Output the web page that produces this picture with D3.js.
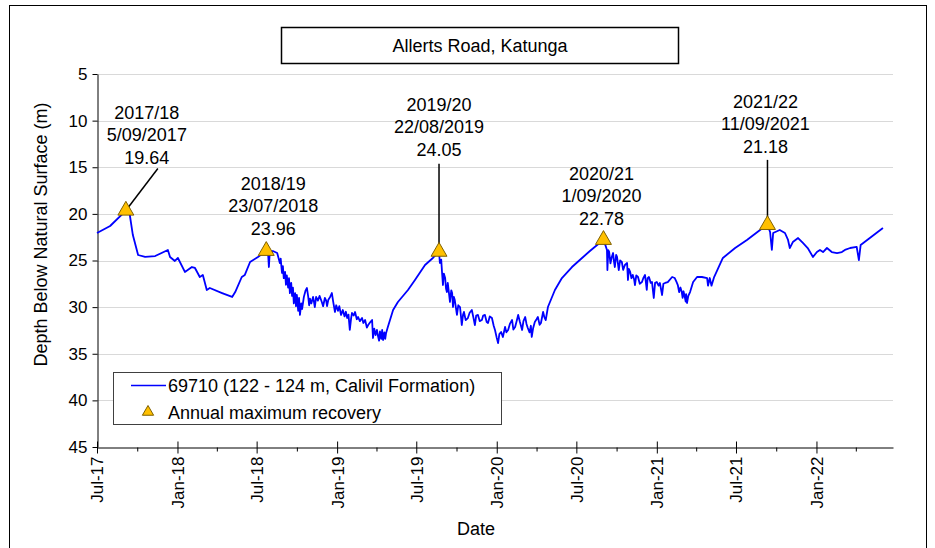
<!DOCTYPE html>
<html>
<head>
<meta charset="utf-8">
<script src="https://cdn.jsdelivr.net/npm/d3@7"></script>
<style>
  body { margin: 0; background: #fff; }
  svg { display: block; font-family: "Liberation Sans", Arial, sans-serif; }
</style>
</head>
<body>
<div id="chart"></div>
<script>
const chartTitle = "Allerts Road, Katunga";
const seriesName = "69710 (122 - 124 m, Calivil Formation)";
const peakName = "Annual maximum recovery";

// bore hydrograph readings [date, depth m], one array per water year
const readings2017 = [
  ["2017-07-01", 22.05], ["2017-07-31", 21.3], ["2017-09-05", 19.64], ["2017-09-14", 20.12], ["2017-09-21", 22.27],
  ["2017-10-03", 24.41], ["2017-10-19", 24.62], ["2017-11-11", 24.52], ["2017-12-10", 23.87], ["2017-12-15", 24.62],
  ["2017-12-26", 25.05], ["2018-01-02", 24.73], ["2018-01-18", 26.23], ["2018-02-03", 25.70], ["2018-02-10", 25.80],
  ["2018-02-21", 26.77], ["2018-02-28", 26.55], ["2018-03-09", 28.16], ["2018-03-16", 27.95], ["2018-04-13", 28.49],
  ["2018-05-06", 28.91], ["2018-05-13", 28.38], ["2018-05-28", 26.77], ["2018-06-04", 26.55], ["2018-06-16", 25.16]
];
const readings2018 = [
  ["2018-07-04", 24.62], ["2018-07-13", 24.30], ["2018-07-23", 23.96], ["2018-07-27", 24.10], ["2018-07-29", 25.70],
  ["2018-07-31", 24.10], ["2018-08-07", 23.98], ["2018-08-17", 24.20], ["2018-08-21", 24.9], ["2018-08-23", 25.27],
  ["2018-08-25", 24.8], ["2018-08-28", 26.34], ["2018-08-30", 25.6], ["2018-09-01", 26.9], ["2018-09-04", 26.23],
  ["2018-09-06", 27.6], ["2018-09-08", 26.6], ["2018-09-11", 27.9], ["2018-09-13", 26.9], ["2018-09-15", 28.5],
  ["2018-09-18", 27.4], ["2018-09-20", 28.8], ["2018-09-22", 27.9], ["2018-09-24", 29.6], ["2018-09-27", 28.49],
  ["2018-09-29", 29.9], ["2018-10-01", 28.7], ["2018-10-04", 30.4], ["2018-10-06", 29.0], ["2018-10-08", 30.84],
  ["2018-10-11", 29.6], ["2018-10-13", 30.2], ["2018-10-17", 28.9], ["2018-10-21", 28.2], ["2018-10-24", 27.95],
  ["2018-10-27", 28.9], ["2018-10-29", 29.8], ["2018-10-31", 29.1], ["2018-11-03", 29.6], ["2018-11-07", 28.91],
  ["2018-11-09", 29.4], ["2018-11-11", 29.99], ["2018-11-14", 28.9], ["2018-11-18", 29.3], ["2018-11-22", 28.8],
  ["2018-11-27", 29.45], ["2018-11-30", 29.9], ["2018-12-04", 29.02], ["2018-12-07", 29.3], ["2018-12-09", 29.9],
  ["2018-12-12", 29.2], ["2018-12-16", 28.91], ["2018-12-20", 28.49], ["2018-12-23", 29.4], ["2018-12-27", 30.52],
  ["2018-12-30", 29.8], ["2019-01-03", 30.4], ["2019-01-06", 29.9], ["2019-01-10", 30.84], ["2019-01-14", 30.31],
  ["2019-01-18", 31.0], ["2019-01-21", 30.5], ["2019-01-24", 31.17], ["2019-01-27", 30.8], ["2019-01-30", 32.45],
  ["2019-02-02", 31.2], ["2019-02-04", 30.63], ["2019-02-08", 30.9], ["2019-02-11", 30.52], ["2019-02-15", 31.3],
  ["2019-02-18", 31.06], ["2019-02-22", 31.5], ["2019-02-27", 31.17], ["2019-03-02", 31.7], ["2019-03-06", 31.38],
  ["2019-03-10", 32.2], ["2019-03-13", 31.92], ["2019-03-18", 31.6], ["2019-03-22", 31.38], ["2019-03-24", 33.31],
  ["2019-03-27", 32.3], ["2019-03-30", 33.0], ["2019-04-02", 32.45], ["2019-04-05", 33.2], ["2019-04-07", 33.6],
  ["2019-04-09", 32.6], ["2019-04-12", 33.4], ["2019-04-14", 32.45], ["2019-04-16", 33.53], ["2019-04-19", 32.7],
  ["2019-04-21", 33.4], ["2019-04-23", 32.77], ["2019-04-27", 32.13], ["2019-05-09", 30.31], ["2019-05-20", 29.45],
  ["2019-06-12", 28.16], ["2019-06-28", 27.09]
];
const readings2019 = [
  ["2019-07-21", 25.48], ["2019-08-08", 24.73], ["2019-08-22", 24.05], ["2019-08-24", 25.27], ["2019-08-27", 24.9],
  ["2019-08-29", 26.34], ["2019-08-31", 27.63], ["2019-09-02", 26.4], ["2019-09-05", 26.88], ["2019-09-07", 28.0],
  ["2019-09-09", 28.38], ["2019-09-11", 27.41], ["2019-09-14", 28.6], ["2019-09-16", 29.45], ["2019-09-19", 28.2],
  ["2019-09-21", 28.49], ["2019-09-23", 29.99], ["2019-09-25", 28.9], ["2019-09-27", 29.24], ["2019-09-30", 30.2],
  ["2019-10-02", 30.84], ["2019-10-05", 29.8], ["2019-10-09", 29.99], ["2019-10-11", 30.9], ["2019-10-13", 31.92],
  ["2019-10-16", 30.8], ["2019-10-18", 30.52], ["2019-10-22", 31.4], ["2019-10-27", 31.17], ["2019-10-31", 30.6],
  ["2019-11-05", 30.31], ["2019-11-09", 31.2], ["2019-11-12", 31.92], ["2019-11-15", 30.9], ["2019-11-19", 30.84],
  ["2019-11-23", 31.5], ["2019-11-28", 31.38], ["2019-12-01", 30.9], ["2019-12-05", 30.84], ["2019-12-09", 31.6],
  ["2019-12-12", 31.70], ["2019-12-16", 31.0], ["2019-12-21", 31.17], ["2019-12-25", 32.0], ["2019-12-28", 32.45],
  ["2020-01-01", 33.3], ["2020-01-04", 33.85], ["2020-01-07", 32.9], ["2020-01-11", 32.67], ["2020-01-15", 33.2],
  ["2020-01-20", 32.13], ["2020-01-23", 32.7], ["2020-01-27", 32.45], ["2020-01-31", 31.8], ["2020-02-05", 31.38],
  ["2020-02-08", 32.4], ["2020-02-12", 32.13], ["2020-02-16", 31.4], ["2020-02-19", 30.84], ["2020-02-23", 31.6],
  ["2020-02-28", 32.45], ["2020-03-02", 31.5], ["2020-03-06", 31.06], ["2020-03-09", 31.8], ["2020-03-12", 32.24],
  ["2020-03-16", 32.7], ["2020-03-19", 32.0], ["2020-03-21", 33.20], ["2020-03-24", 32.3], ["2020-03-28", 31.59],
  ["2020-04-01", 31.3], ["2020-04-04", 31.06], ["2020-04-08", 31.9], ["2020-04-11", 31.70], ["2020-04-16", 30.52],
  ["2020-04-19", 31.1], ["2020-04-22", 31.38], ["2020-04-27", 29.99], ["2020-05-13", 28.16], ["2020-05-29", 26.88],
  ["2020-06-21", 25.70]
];
const readings2020 = [
  ["2020-07-14", 24.73], ["2020-08-01", 23.98], ["2020-09-01", 22.78], ["2020-09-05", 23.3], ["2020-09-09", 23.87],
  ["2020-09-10", 26.02], ["2020-09-12", 23.9], ["2020-09-14", 24.09], ["2020-09-17", 25.3], ["2020-09-20", 24.62],
  ["2020-09-23", 24.20], ["2020-09-25", 25.1], ["2020-09-27", 25.70], ["2020-09-30", 24.4], ["2020-10-02", 24.62],
  ["2020-10-04", 25.3], ["2020-10-06", 26.02], ["2020-10-09", 25.0], ["2020-10-13", 25.16], ["2020-10-16", 26.0],
  ["2020-10-20", 25.48], ["2020-10-25", 25.27], ["2020-10-27", 27.09], ["2020-10-29", 25.9], ["2020-11-01", 26.23],
  ["2020-11-04", 26.9], ["2020-11-07", 26.55], ["2020-11-10", 27.0], ["2020-11-12", 27.63], ["2020-11-15", 26.6],
  ["2020-11-19", 26.77], ["2020-11-23", 27.5], ["2020-11-28", 27.31], ["2020-12-01", 26.9], ["2020-12-05", 26.55],
  ["2020-12-09", 28.16], ["2020-12-11", 26.9], ["2020-12-14", 26.77], ["2020-12-18", 27.4], ["2020-12-21", 27.31],
  ["2020-12-25", 29.02], ["2020-12-28", 27.4], ["2021-01-01", 27.31], ["2021-01-05", 27.7], ["2021-01-08", 27.41],
  ["2021-01-13", 28.70], ["2021-01-16", 27.5], ["2021-01-20", 27.41], ["2021-01-26", 27.31], ["2021-02-05", 26.77],
  ["2021-02-11", 26.88], ["2021-02-15", 27.3], ["2021-02-18", 27.63], ["2021-02-21", 28.4], ["2021-02-24", 27.9],
  ["2021-02-27", 28.38], ["2021-03-01", 29.0], ["2021-03-03", 28.3], ["2021-03-06", 28.91], ["2021-03-08", 29.4],
  ["2021-03-09", 28.6], ["2021-03-11", 29.56], ["2021-03-14", 28.8], ["2021-03-18", 28.38], ["2021-03-25", 27.31],
  ["2021-04-03", 26.77], ["2021-04-14", 26.77], ["2021-04-26", 26.88], ["2021-04-28", 27.70], ["2021-05-02", 26.88],
  ["2021-05-06", 27.70], ["2021-05-12", 26.77], ["2021-06-01", 24.73], ["2021-06-29", 23.66]
];
const readings2021 = [
  ["2021-07-26", 22.80], ["2021-08-25", 21.73], ["2021-09-11", 21.18], ["2021-09-17", 21.94], ["2021-09-21", 23.87],
  ["2021-09-24", 22.05], ["2021-10-09", 21.73], ["2021-10-21", 22.05], ["2021-10-28", 22.80], ["2021-11-01", 23.66],
  ["2021-11-08", 23.02], ["2021-11-20", 22.59], ["2021-12-01", 23.12], ["2021-12-12", 23.66], ["2021-12-24", 24.62],
  ["2022-01-02", 24.09], ["2022-01-09", 23.87], ["2022-01-16", 24.09], ["2022-01-25", 23.66], ["2022-02-05", 24.09],
  ["2022-02-17", 24.20], ["2022-02-28", 24.09], ["2022-03-07", 23.87], ["2022-03-19", 23.66], ["2022-04-03", 23.55],
  ["2022-04-08", 24.95], ["2022-04-12", 23.34], ["2022-05-03", 22.59], ["2022-06-02", 21.51]
];

// annual maximum recovery points
const peakSeasons = ["2017/18", "2018/19", "2019/20", "2020/21", "2021/22"];
const peakDates = ["2017-09-05", "2018-07-23", "2019-08-22", "2020-09-01", "2021-09-11"];
const peakDateLabels = ["5/09/2017", "23/07/2018", "22/08/2019", "1/09/2020", "11/09/2021"];
const peakDepths = [19.64, 23.96, 24.05, 22.78, 21.18];

const yTicks = [5, 10, 15, 20, 25, 30, 35, 40, 45];
const xTickDates = ["2017-07-01", "2018-01-01", "2018-07-01", "2019-01-01", "2019-07-01",
  "2020-01-01", "2020-07-01", "2021-01-01", "2021-07-01", "2022-01-01"];
const xTickLabels = ["Jul-17", "Jan-18", "Jul-18", "Jan-19", "Jul-19",
  "Jan-20", "Jul-20", "Jan-21", "Jul-21", "Jan-22"];

// where each label block sits relative to its triangle (dx, first baseline dy, leader end or null)
const labelLayout = [
  {dx: 21, dy: -92, lead: [32, -42]},
  {dx: 7, dy: -61, lead: null},
  {dx: 0, dy: -141, lead: [0, -88]},
  {dx: -2, dy: -60, lead: null},
  {dx: -2, dy: -117, lead: [0, -65]}
];

const width = 935, height = 548;
const plot = {left: 97, right: 893, top: 74, bottom: 447};
const parse = d3.timeParse("%Y-%m-%d");

const series = [].concat(readings2017, readings2018, readings2019, readings2020, readings2021)
  .map(r => ({date: parse(r[0]), depth: r[1]}));
const peaks = peakDates.map((d, i) => ({
  date: parse(d), depth: peakDepths[i], season: peakSeasons[i], label: peakDateLabels[i], layout: labelLayout[i]
}));

const svg = d3.select("#chart").append("svg")
  .attr("width", width)
  .attr("height", height);

// outer chart frame
svg.append("rect")
  .attr("x", 9.5).attr("y", 5.5)
  .attr("width", 917).attr("height", 560)
  .attr("fill", "#fff").attr("stroke", "#000").attr("stroke-width", 1);

const x = d3.scaleTime()
  .domain([parse("2017-07-01"), parse("2022-06-25")])
  .range([plot.left, plot.right]);

const y = d3.scaleLinear()
  .domain([5, 45])
  .range([plot.top, plot.bottom]);

// gridlines
svg.append("g")
  .selectAll("line")
  .data(yTicks.filter(t => t !== 45))
  .join("line")
  .attr("x1", plot.left).attr("x2", plot.right)
  .attr("y1", d => Math.round(y(d)) + 0.5).attr("y2", d => Math.round(y(d)) + 0.5)
  .attr("stroke", "#d9d9d9").attr("stroke-width", 1);

// y axis
const yAxis = svg.append("g")
  .attr("transform", `translate(${plot.left + 0.5},0)`)
  .call(d3.axisLeft(y).tickValues(yTicks).tickSize(5).tickPadding(5).tickSizeOuter(0));
yAxis.selectAll("text").attr("font-size", 17).attr("fill", "#000").attr("font-family", "Liberation Sans, Arial, sans-serif");
yAxis.selectAll("line, path").attr("stroke", "#000");

// x axis, major and minor ticks
const majorDates = xTickDates.map(parse);
const minorDates = d3.timeMonth.every(3).range(x.domain()[0], x.domain()[1])
  .filter(d => !majorDates.some(m => +m === +d));

const xMinor = svg.append("g")
  .attr("transform", `translate(0,${plot.bottom + 0.5})`)
  .call(d3.axisBottom(x).tickValues(minorDates).tickSize(4).tickFormat("").tickSizeOuter(0));
xMinor.select(".domain").remove();
xMinor.selectAll("line").attr("stroke", "#000");

const xAxis = svg.append("g")
  .attr("transform", `translate(0,${plot.bottom + 0.5})`)
  .call(d3.axisBottom(x).tickValues(majorDates).tickSize(6).tickSizeOuter(0)
    .tickFormat((d, i) => xTickLabels[i]));
xAxis.selectAll(".tick line").attr("y1", -6).attr("y2", 6);
xAxis.selectAll("line, path").attr("stroke", "#000");
xAxis.selectAll("text")
  .attr("transform", "rotate(-90)")
  .attr("text-anchor", "end")
  .attr("x", -9).attr("y", 0).attr("dy", "0.35em")
  .attr("font-size", 17).attr("fill", "#000")
  .attr("font-family", "Liberation Sans, Arial, sans-serif");

// axis titles
svg.append("text")
  .attr("transform", `translate(41,${(plot.top + plot.bottom) / 2 - 26}) rotate(-90)`)
  .attr("text-anchor", "middle").attr("dy", "0.35em")
  .attr("font-size", 18)
  .text("Depth Below Natural Surface (m)");

svg.append("text")
  .attr("x", 476).attr("y", 535)
  .attr("text-anchor", "middle")
  .attr("font-size", 18)
  .text("Date");

// title box
svg.append("rect")
  .attr("x", 281.5).attr("y", 27.5)
  .attr("width", 397).attr("height", 36)
  .attr("fill", "#fff").attr("stroke", "#000").attr("stroke-width", 1.5);
svg.append("text")
  .attr("x", 480).attr("y", 52)
  .attr("text-anchor", "middle")
  .attr("font-size", 18)
  .text(chartTitle);

// the hydrograph
const line = d3.line()
  .x(d => x(d.date))
  .y(d => y(d.depth));

svg.append("path")
  .datum(series)
  .attr("d", line)
  .attr("fill", "none")
  .attr("stroke", "#0000ff")
  .attr("stroke-width", 1.8)
  .attr("stroke-linejoin", "round");

// leader lines
svg.append("g")
  .selectAll("line")
  .data(peaks.filter(p => p.layout.lead))
  .join("line")
  .attr("x1", d => x(d.date)).attr("y1", d => y(d.depth))
  .attr("x2", d => x(d.date) + d.layout.lead[0]).attr("y2", d => y(d.depth) + d.layout.lead[1])
  .attr("stroke", "#000").attr("stroke-width", 1.5);

// peak markers
const triangle = d3.symbol(d3.symbolTriangle, 110);
svg.append("g")
  .selectAll("path")
  .data(peaks)
  .join("path")
  .attr("d", triangle)
  .attr("transform", d => `translate(${x(d.date)},${y(d.depth)})`)
  .attr("fill", "#ffc000")
  .attr("stroke", "#7f6000")
  .attr("stroke-width", 1);

// peak labels
const labels = svg.append("g")
  .selectAll("text")
  .data(peaks)
  .join("text")
  .attr("text-anchor", "middle")
  .attr("font-size", 18)
  .attr("x", d => x(d.date) + d.layout.dx)
  .attr("y", d => y(d.depth) + d.layout.dy);

labels.each(function (d) {
  const t = d3.select(this);
  const cx = x(d.date) + d.layout.dx;
  [d.season, d.label, d3.format(".2f")(d.depth)].forEach((s, i) => {
    t.append("tspan").attr("x", cx).attr("dy", i === 0 ? 0 : 22.5).text(s);
  });
});

// legend
const legend = svg.append("g");
legend.append("rect")
  .attr("x", 113.5).attr("y", 372.5)
  .attr("width", 388).attr("height", 52)
  .attr("fill", "#fff").attr("stroke", "#404040").attr("stroke-width", 1);
legend.append("line")
  .attr("x1", 131).attr("x2", 166)
  .attr("y1", 385.5).attr("y2", 385.5)
  .attr("stroke", "#0000ff").attr("stroke-width", 1.6);
legend.append("text")
  .attr("x", 168).attr("y", 392)
  .attr("font-size", 18)
  .text(seriesName);
legend.append("path")
  .attr("d", d3.symbol(d3.symbolTriangle, 55)())
  .attr("transform", "translate(148,412)")
  .attr("fill", "#ffc000").attr("stroke", "#7f6000").attr("stroke-width", 1);
legend.append("text")
  .attr("x", 168).attr("y", 418.5)
  .attr("font-size", 18)
  .text(peakName);
</script>
</body>
</html>
